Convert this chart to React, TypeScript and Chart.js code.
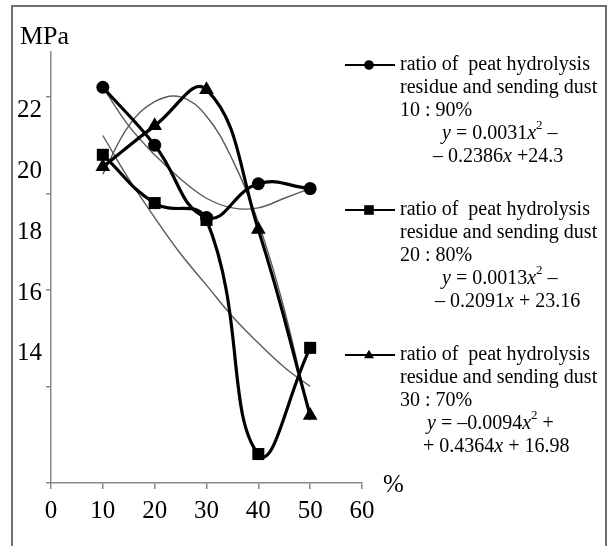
import React, { useEffect, useRef } from 'react';
import { Chart, registerables } from 'chart.js';

Chart.register(...registerables);

// ---- data ----
const xValues = [10, 20, 30, 40, 50];
const series1090 = [22.2, 21.0, 19.5, 20.2, 20.1]; // circles
const series2080 = [20.8, 19.8, 19.45, 14.6, 16.8]; // squares
const series3070 = [20.55, 21.4, 22.15, 19.25, 15.4]; // triangles

const fitX = [10, 15, 20, 25, 30, 35, 40, 45, 50];
const fit1090 = [22.2, 21.4, 20.8, 20.3, 19.9, 19.7, 19.7, 19.9, 20.1];
const fit2080 = [21.2, 20.3, 19.5, 18.75, 18.1, 17.45, 16.9, 16.4, 16.0];
const fit3070 = [20.4, 21.4, 21.9, 22.0, 21.6, 20.7, 19.4, 17.6, 15.3];

const yTickLabels = [14, 16, 18, 20, 22];
const xTickLabels = [0, 10, 20, 30, 40, 50, 60];

const legendTitle = ['ratio of  peat hydrolysis', 'residue and sending dust'];
const legendRatios = ['10 : 90%', '20 : 80%', '30 : 70%'];
const legendMarkers = ['circle', 'rect', 'triangle'];
type Seg = { t: string; i?: boolean; sup?: boolean };
const legendEquations: Seg[][][] = [
  [
    [{ t: 'y', i: true }, { t: ' = 0.0031' }, { t: 'x', i: true }, { t: '2', sup: true }, { t: ' –' }],
    [{ t: '– 0.2386' }, { t: 'x', i: true }, { t: ' +24.3' }],
  ],
  [
    [{ t: 'y', i: true }, { t: ' = 0.0013' }, { t: 'x', i: true }, { t: '2', sup: true }, { t: ' –' }],
    [{ t: '– 0.2091' }, { t: 'x', i: true }, { t: ' + 23.16' }],
  ],
  [
    [{ t: 'y', i: true }, { t: ' = –0.0094' }, { t: 'x', i: true }, { t: '2', sup: true }, { t: ' +' }],
    [{ t: '+ 0.4364' }, { t: 'x', i: true }, { t: ' + 16.98' }],
  ],
];
const yUnit = 'MPa';
const xUnit = '%';

const FONT = '"Liberation Serif", "Times New Roman", serif';

function pts(xs: number[], ys: number[]) {
  return xs.map((x, i) => ({ x, y: ys[i] }));
}

function drawMarker(ctx: CanvasRenderingContext2D, kind: string, x: number, y: number, r: number) {
  ctx.beginPath();
  if (kind === 'circle') {
    ctx.arc(x, y, r, 0, Math.PI * 2);
  } else if (kind === 'rect') {
    ctx.rect(x - r, y - r, 2 * r, 2 * r);
  } else {
    ctx.moveTo(x, y - r * 1.1);
    ctx.lineTo(x + r * 1.05, y + r * 0.7);
    ctx.lineTo(x - r * 1.05, y + r * 0.7);
    ctx.closePath();
  }
  ctx.fill();
}

function drawRich(ctx: CanvasRenderingContext2D, segs: Seg[], x: number, y: number) {
  let cx = x;
  for (const s of segs) {
    ctx.font = `${s.i ? 'italic ' : ''}${s.sup ? 13 : 20}px ${FONT}`;
    ctx.fillText(s.t, cx, s.sup ? y - 8 : y);
    cx += ctx.measureText(s.t).width;
  }
}

const decorPlugin = {
  id: 'decor',
  beforeDraw(chart: any) {
    const ctx = chart.ctx as CanvasRenderingContext2D;
    ctx.save();
    ctx.fillStyle = '#ffffff';
    ctx.fillRect(0, 0, chart.width, chart.height);
    ctx.strokeStyle = '#707070';
    ctx.lineWidth = 2;
    ctx.strokeRect(12, 6, 594, 570);
    ctx.restore();
  },
  afterDraw(chart: any) {
    const ctx = chart.ctx as CanvasRenderingContext2D;
    ctx.save();
    ctx.fillStyle = '#000';
    ctx.textBaseline = 'middle';
    ctx.textAlign = 'left';
    // axis units
    ctx.font = `26px ${FONT}`;
    ctx.fillText(yUnit, 20, 37);
    ctx.font = `25px ${FONT}`;
    ctx.fillText(xUnit, 383, 485);

    const tops = [65, 210, 355];
    const step = 23;
    const eqLeft = [
      [442, 433],
      [442, 435],
      [427, 423],
    ];
    tops.forEach((top, b) => {
      ctx.strokeStyle = '#000';
      ctx.lineWidth = 2;
      ctx.beginPath();
      ctx.moveTo(345, top);
      ctx.lineTo(395, top);
      ctx.stroke();
      drawMarker(ctx, legendMarkers[b], 369, top, 4.8);
      ctx.font = `20px ${FONT}`;
      ctx.fillText(legendTitle[0], 400, top);
      ctx.fillText(legendTitle[1], 400, top + step);
      ctx.fillText(legendRatios[b], 400, top + step * 2);
      drawRich(ctx, legendEquations[b][0], eqLeft[b][0], top + step * 3);
      drawRich(ctx, legendEquations[b][1], eqLeft[b][1], top + step * 4);
    });
    ctx.restore();
  },
};

export default function App() {
  const ref = useRef<HTMLCanvasElement | null>(null);
  useEffect(() => {
    document.body.style.margin = '0';
    if (!ref.current) return;
    const thick = { borderColor: '#000', backgroundColor: '#000', borderWidth: 3.2, tension: 0.45, pointBorderWidth: 0 };
    const thin = { borderColor: '#5a5a5a', borderWidth: 1.4, pointRadius: 0, tension: 0.4, fill: false };
    const chart = new Chart(ref.current, {
      type: 'line',
      data: {
        datasets: [
          { ...thick, label: legendRatios[0], data: pts(xValues, series1090), pointStyle: 'circle', pointRadius: 6.5 },
          { ...thick, label: legendRatios[1], data: pts(xValues, series2080), pointStyle: 'rect', pointRadius: 8.5 },
          { ...thick, label: legendRatios[2], data: pts(xValues, series3070), pointStyle: 'triangle', pointRadius: 8.5 },
          { ...thin, label: 'fit 10:90', data: pts(fitX, fit1090) },
          { ...thin, label: 'fit 20:80', data: pts(fitX, fit2080) },
          { ...thin, label: 'fit 30:70', data: pts(fitX, fit3070) },
        ] as any,
      },
      options: {
        responsive: false,
        animation: false,
        devicePixelRatio: 1,
        layout: { padding: { top: 52, right: 247, left: 0, bottom: 0 } },
        plugins: { legend: { display: false }, tooltip: { enabled: false } },
        scales: {
          x: {
            type: 'linear',
            min: 0,
            max: 60,
            afterFit: (s: any) => { s.height = 63; },
            afterBuildTicks: (s: any) => { s.ticks = xTickLabels.map((v) => ({ value: v })); },
            border: { display: true, color: '#8a8a8a', width: 1.5 },
            grid: { display: true, drawOnChartArea: false, drawTicks: true, tickLength: 6, color: '#8a8a8a', lineWidth: 1.5 },
            ticks: { color: '#000', font: { family: FONT, size: 25 }, padding: 7, maxRotation: 0 },
          },
          y: {
            type: 'linear',
            position: 'left',
            weight: 0,
            min: 14,
            max: 22.93,
            afterFit: (s: any) => { s.width = 0; },
            afterBuildTicks: (s: any) => { s.ticks = yTickLabels.map((v) => ({ value: v })); },
            border: { display: true, color: '#8a8a8a', width: 1.5 },
            grid: { display: true, drawOnChartArea: false, drawTicks: true, tickLength: 5, color: '#8a8a8a', lineWidth: 1.5 },
            ticks: { display: false },
          },
          yLabels: {
            type: 'linear',
            position: 'left',
            weight: 1,
            min: 9.75,
            max: 23.94,
            afterFit: (s: any) => { s.width = 51; },
            afterBuildTicks: (s: any) => { s.ticks = yTickLabels.map((v) => ({ value: v })); },
            border: { display: false },
            grid: { display: false, drawTicks: false },
            ticks: { color: '#000', font: { family: FONT, size: 25 }, padding: 9 },
          },
        },
      } as any,
      plugins: [decorPlugin],
    });
    return () => chart.destroy();
  }, []);
  return (
    <div style={{ width: 609, height: 546 }}>
      <canvas ref={ref} width={609} height={546} />
    </div>
  );
}
